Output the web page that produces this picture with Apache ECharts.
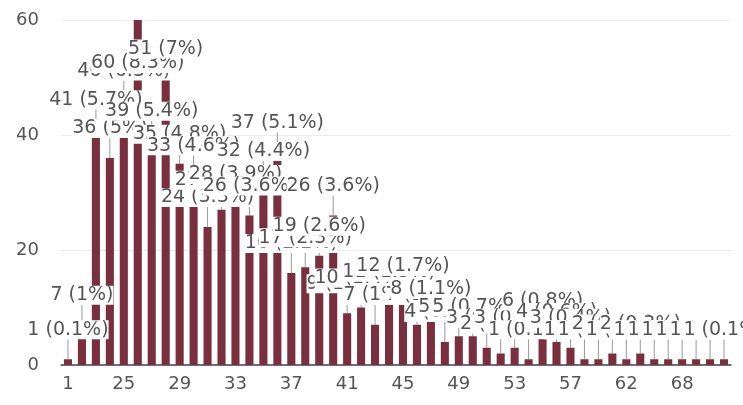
<!DOCTYPE html>
<html>
<head>
<meta charset="utf-8">
<script src="https://cdn.jsdelivr.net/npm/echarts@6/dist/echarts.min.js"></script>
<style>
  html, body { margin: 0; padding: 0; background: #fff; }
  #chart { width: 743px; height: 405px; }
</style>
</head>
<body>
<div id="chart"></div>
<script>
const categories = ['1','22','23','24','25','26','27','28','29','30','31','32','33','34','35','36',
  '37','38','39','40','41','42','43','44','45','46','47','48','49','50','51','52',
  '53','54','55','56','57','58','59','60','62','63','64','65','68','69','70','71'];
const counts = [1,7,41,36,46,60,39,51,35,33,24,27,28,26,32,37,
  16,17,19,26,9,10,7,11,12,7,8,4,5,5,3,2,
  3,1,6,4,3,1,1,2,1,2,1,1,1,1,1,1];
const totalCount = 725;
const yTicks = [0, 20, 40, 60];
const labelTopLimit = 38;

const chart = echarts.init(document.getElementById('chart'));
chart.setOption({
  animation: false,
  grid: { left: 61, right: 12, top: 20, bottom: 40 },
  xAxis: {
    type: 'category',
    data: categories,
    axisTick: { show: false },
    axisLine: { lineStyle: { color: '#444', width: 1.5 } },
    axisLabel: { interval: 3, margin: 10, fontSize: 18, color: '#555', fontFamily: 'DejaVu Sans' }
  },
  yAxis: {
    type: 'value',
    min: yTicks[0], max: yTicks[yTicks.length - 1], interval: 20,
    axisLine: { show: false },
    axisTick: { show: false },
    splitLine: { lineStyle: { color: '#ececec' } },
    axisLabel: { margin: 22, fontSize: 18, color: '#555', fontFamily: 'DejaVu Sans' }
  },
  series: [{
    type: 'bar',
    data: counts,
    barCategoryGap: '42%',
    itemStyle: { color: '#7a2f3f' },
    label: {
      show: true,
      position: 'top',
      distance: 20,
      fontSize: 19,
      fontFamily: 'DejaVu Sans',
      color: '#555',
      backgroundColor: '#fff',
      formatter: p => p.value + ' (' + Number((p.value / totalCount * 100).toFixed(1)) + '%)'
    },
    labelLine: { show: true, lineStyle: { color: '#999', width: 1 } },
    labelLayout: p => ({
      moveOverlap: 'shiftY',
      dy: Math.max(0, labelTopLimit - p.labelRect.y) * 1.28
    })
  }]
});
</script>
</body>
</html>
